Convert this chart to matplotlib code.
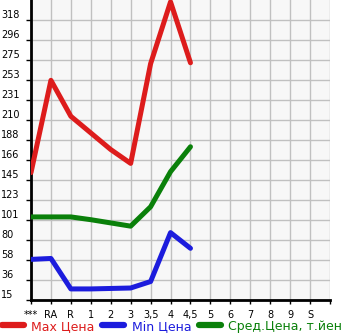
import numpy as np
import matplotlib
matplotlib.use('Agg')
import matplotlib.pyplot as plt

# категории по оси X
categories = ['***', 'RA', 'R', '1', '2', '3', '3,5', '4', '4,5', '5', '6', '7', '8', '9', 'S']
nan = np.nan

# цены (тыс. йен)
max_price = [153, 253, 214, 196, 178, 163, 271, 338, 272, nan, nan, nan, nan, nan, nan]
min_price = [59, 60, 27, 27, 27.5, 28, 35, 88, 71, nan, nan, nan, nan, nan, nan]
avg_price = [105, 105, 105, 102, 98.5, 95, 116, 154, 181, nan, nan, nan, nan, nan, nan]

y_ticks = [15 + 325 / 15 * k for k in range(15)]
y_labels = ['15', '36', '58', '80', '101', '123', '145', '166', '188',
            '210', '231', '253', '275', '296', '318']

fig = plt.figure(figsize=(3.45, 3.35), dpi=100)
ax = fig.add_axes([31 / 345, 35 / 335, 299 / 345, 300 / 335])
ax.set_facecolor('#f7f7f7')

x = np.arange(len(categories))
ax.plot(x, max_price, color='#dd1c1c', lw=3.6, solid_capstyle='round', solid_joinstyle='round', label='Max Цена', zorder=3)
ax.plot(x, min_price, color='#1c1cdd', lw=3.6, solid_capstyle='round', solid_joinstyle='round', label='Min Цена', zorder=3)
ax.plot(x, avg_price, color='#0a800a', lw=3.6, solid_capstyle='round', solid_joinstyle='round', label='Сред.Цена, т.йен', zorder=3)

ax.set_xlim(0, 15)
ax.set_ylim(15, 340)
# сетка по всем позициям + правый край
ax.set_xticks(np.arange(0, 16))
ax.set_xticklabels(categories + [''], fontsize=7)
ax.set_yticks(y_ticks)
ax.set_yticklabels(y_labels, fontsize=7, ha='left', va='bottom')

ax.grid(True, color='#c0c0c0', lw=1)
ax.set_axisbelow(True)

ax.tick_params(axis='y', length=3.5, width=1, pad=18, color='black')
ax.tick_params(axis='x', length=3, width=1, pad=4, color='black')

for side in ['top', 'right']:
    ax.spines[side].set_visible(False)
ax.spines['left'].set_linewidth(2)
ax.spines['bottom'].set_linewidth(2)

leg = fig.legend(loc='lower left', bbox_to_anchor=(-0.012, -0.012), ncol=3, frameon=False,
                 fontsize=9, handlelength=1.75, handletextpad=0.6, columnspacing=0.6,
                 borderaxespad=0.1)
for line, text in zip(leg.get_lines(), leg.get_texts()):
    text.set_color(line.get_color())
    line.set_linewidth(4.5)

fig.savefig('out.png', dpi=100)
